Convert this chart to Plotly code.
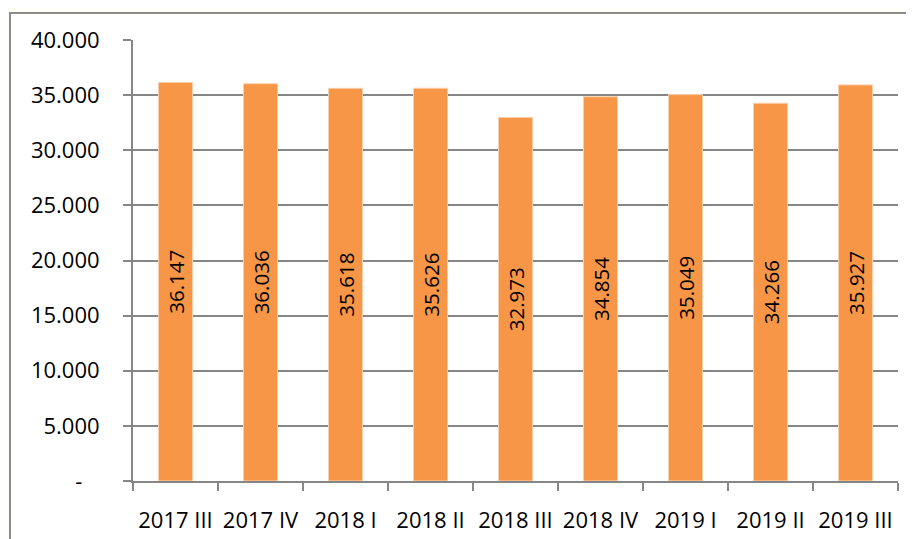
import plotly.graph_objects as go

categories = ["2017 III", "2017 IV", "2018 I", "2018 II", "2018 III", "2018 IV", "2019 I", "2019 II", "2019 III"]
values = [36147, 36036, 35618, 35626, 32973, 34854, 35049, 34266, 35927]
tick_vals = [0, 5000, 10000, 15000, 20000, 25000, 30000, 35000, 40000]
tick_text = ["-\u00a0\u00a0\u00a0", "5.000", "10.000", "15.000", "20.000", "25.000", "30.000", "35.000", "40.000"]

labels = [f"{v:,}".replace(",", ".") for v in values]

FONT = "Open Sans, Liberation Sans, sans-serif"
FS = 22

fig = go.Figure(go.Bar(
    x=categories, y=values,
    marker=dict(color="#F79646", line=dict(color="#FAD0AC", width=1)),
    text=labels, textposition="inside", insidetextanchor="middle",
    textangle=-90, textfont=dict(size=FS, color="black", family=FONT),
    hoverinfo="skip",
))

# page has an 8px body offset
OFF = 8
W, H = 914 - OFF, 539 - OFF
L, R, T, B = 133 - OFF, 16, 40 - OFF, 58
pw, ph = W - L - R, H - T - B

def px(x):
    return (x - OFF - L) / pw

def py(y):
    return (H - B - (y - OFF)) / ph

fig.update_layout(
    width=W, height=H,
    margin=dict(l=L, r=R, t=T, b=B, autoexpand=False),
    paper_bgcolor="#FFFFF7",
    plot_bgcolor="white",
    bargap=0.6,
    showlegend=False,
    font=dict(family=FONT, color="black", size=FS),
    shapes=[dict(type="rect", xref="paper", yref="paper",
                 x0=px(10), x1=px(911), y0=py(13), y1=py(560),
                 fillcolor="white", line=dict(color="#8C8C8C", width=2),
                 layer="below")],
)
fig.update_xaxes(
    showline=True, linecolor="#868686", linewidth=2,
    ticks="outside", ticklen=8, tickcolor="#868686", tickwidth=2,
    tickson="boundaries", showgrid=False, tickangle=0, automargin=False,
    tickfont=dict(size=FS, family=FONT), ticklabelstandoff=19,
)
fig.update_yaxes(
    range=[0, 40000], tickvals=tick_vals, ticktext=tick_text,
    showgrid=True, gridcolor="#868686", gridwidth=1.5,
    showline=True, linecolor="#868686", linewidth=2,
    ticks="outside", ticklen=8, tickcolor="#868686", tickwidth=2,
    automargin=False,
    tickfont=dict(size=FS, family=FONT), ticklabelstandoff=19,
    zeroline=False,
)

fig.write_html("out.html")
